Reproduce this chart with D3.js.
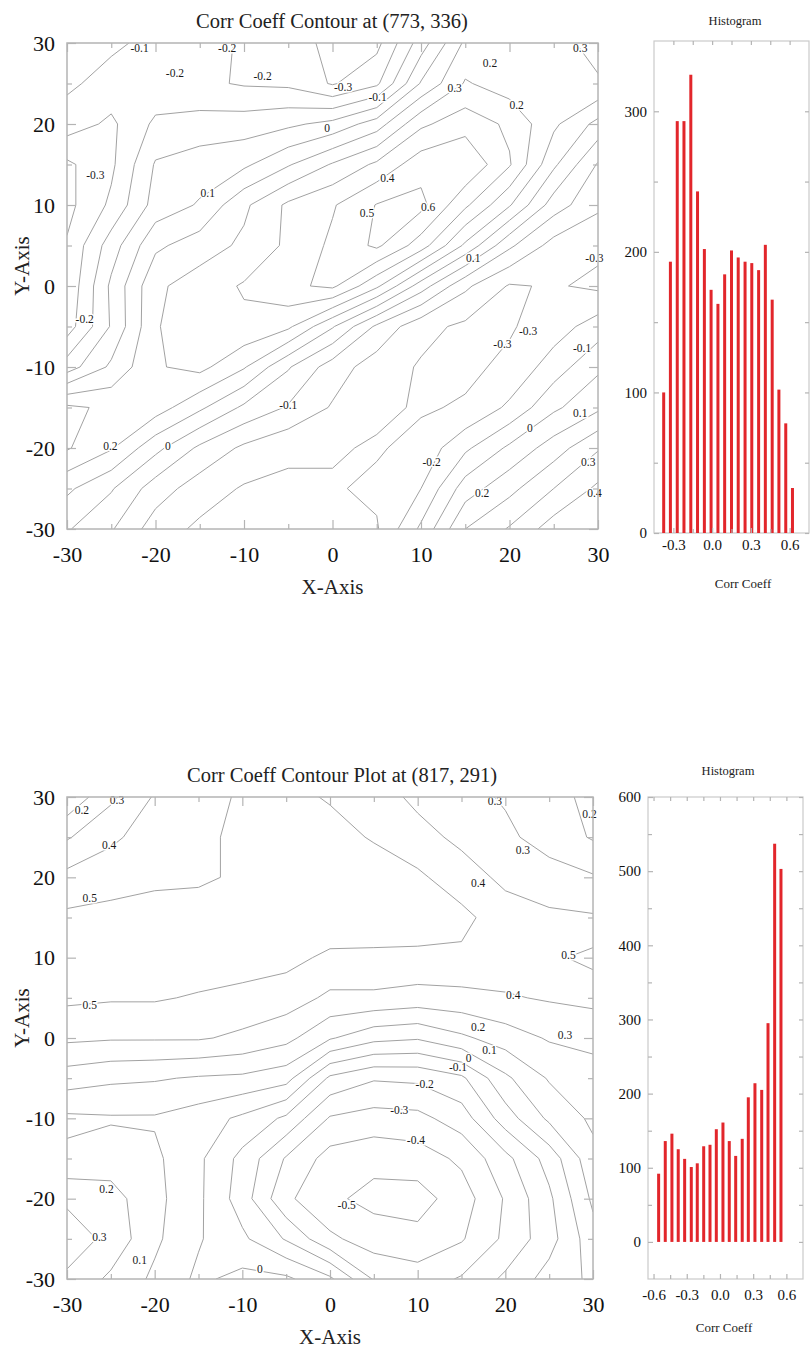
<!DOCTYPE html>
<html>
<head>
<meta charset="utf-8">
<script src="https://cdn.jsdelivr.net/npm/d3@7"></script>
<style>
body { margin: 0; background: #fff; }
text { font-family: "Liberation Serif", "Times New Roman", serif; fill: #222; }
</style>
</head>
<body>
<svg id="chart" width="812" height="1349"></svg>
<script>
// contour grids: nodes every 5 units, rows go from Y=30 (top) down to Y=-30
var gridX = [-30,-25,-20,-15,-10,-5,0,5,10,15,20,25,30];
var gridY = [30,25,20,15,10,5,0,-5,-10,-15,-20,-25,-30];
var axisTicks = [-30,-20,-10,0,10,20,30];
var axisMinor = [-25,-15,-5,5,15,25];

var corrTop = [
  [-0.03,-0.08,-0.13,-0.17,-0.21,-0.25,-0.33,-0.33,-0.05,0.22,0.28,0.27,0.33],
  [-0.08,-0.14,-0.17,-0.18,-0.21,-0.22,-0.31,-0.22,0.11,0.31,0.25,0.25,0.29],
  [-0.15,-0.22,-0.08,-0.06,-0.05,-0.02,0.03,0.15,0.38,0.46,0.38,0.22,0.07],
  [-0.32,-0.22,0.01,0.05,0.08,0.19,0.31,0.42,0.56,0.59,0.41,0.12,-0.11],
  [-0.33,-0.18,0.04,0.11,0.28,0.42,0.49,0.605,0.63,0.42,0.21,-0.05,-0.18],
  [-0.29,-0.05,0.18,0.25,0.32,0.42,0.52,0.62,0.45,0.18,-0.08,-0.24,-0.28],
  [-0.28,0.02,0.28,0.35,0.41,0.48,0.52,0.32,0.05,-0.18,-0.31,-0.29,-0.32],
  [-0.25,0.01,0.29,0.38,0.38,0.32,0.11,-0.12,-0.27,-0.32,-0.31,-0.25,-0.15],
  [-0.05,0.12,0.29,0.33,0.21,0.01,-0.15,-0.25,-0.31,-0.32,-0.28,-0.15,-0.02],
  [0.32,0.28,0.25,0.12,-0.02,-0.11,-0.21,-0.28,-0.31,-0.29,-0.18,-0.02,0.08],
  [0.31,0.21,0.03,-0.12,-0.22,-0.28,-0.29,-0.31,-0.27,-0.12,0.02,0.15,0.29],
  [0.12,0.01,-0.15,-0.25,-0.31,-0.32,-0.31,-0.28,-0.2,0.05,0.17,0.3,0.42],
  [0.01,-0.09,-0.25,-0.32,-0.33,-0.33,-0.32,-0.31,-0.08,0.2,0.31,0.45,0.5]
];
var levelsTop = [-0.3,-0.2,-0.1,0,0.1,0.2,0.3,0.4,0.5,0.6];
var labelsTop = [
  [-21.8,29.4,"-0.1"],[-11.9,29.4,"-0.2"],[-17.8,26.3,"-0.2"],[-7.9,25.9,"-0.2"],
  [1.2,24.6,"-0.3"],[5.1,23.3,"-0.1"],[-0.6,19.5,"0"],[28,29.4,"0.3"],
  [17.8,27.5,"0.2"],[13.8,24.4,"0.3"],[20.8,22.3,"0.2"],[-26.8,13.7,"-0.3"],
  [-14.1,11.5,"0.1"],[6.2,13.3,"0.4"],[3.9,9.0,"0.5"],[10.8,9.8,"0.6"],
  [15.9,3.5,"0.1"],[29.6,3.5,"-0.3"],[-28,-4.1,"-0.2"],[22.1,-5.6,"-0.3"],
  [19.2,-7.2,"-0.3"],[28.2,-7.7,"-0.1"],[-5,-14.7,"-0.1"],[28,-15.7,"0.1"],
  [22.3,-17.5,"0"],[-25.1,-19.8,"0.2"],[-18.6,-19.8,"0"],[11.2,-21.7,"-0.2"],
  [28.9,-21.7,"0.3"],[16.9,-25.6,"0.2"],[29.6,-25.6,"0.4"]
];

var corrBottom = [
  [0.12,0.28,0.41,0.47,0.51,0.53,0.49,0.44,0.38,0.33,0.29,0.24,0.17],
  [0.29,0.38,0.45,0.48,0.52,0.55,0.54,0.49,0.43,0.38,0.32,0.26,0.19],
  [0.43,0.46,0.48,0.49,0.51,0.56,0.57,0.56,0.52,0.44,0.38,0.34,0.31],
  [0.52,0.53,0.54,0.53,0.55,0.57,0.57,0.56,0.55,0.53,0.44,0.42,0.41],
  [0.56,0.57,0.57,0.56,0.55,0.53,0.48,0.48,0.48,0.48,0.46,0.48,0.53],
  [0.52,0.51,0.51,0.49,0.47,0.45,0.38,0.38,0.36,0.37,0.39,0.41,0.43],
  [0.42,0.41,0.41,0.41,0.38,0.33,0.21,0.13,0.11,0.18,0.25,0.31,0.32],
  [0.25,0.22,0.21,0.19,0.18,0.14,-0.12,-0.19,-0.18,-0.12,0.08,0.21,0.27],
  [0.08,0.09,0.09,0.05,-0.02,-0.12,-0.31,-0.34,-0.33,-0.25,-0.05,0.12,0.22],
  [0.12,0.15,0.12,0.02,-0.13,-0.31,-0.44,-0.47,-0.45,-0.38,-0.23,-0.06,0.17],
  [0.28,0.24,0.13,0.02,-0.15,-0.38,-0.48,-0.53,-0.54,-0.45,-0.29,-0.12,0.12],
  [0.36,0.27,0.12,0.01,-0.08,-0.21,-0.38,-0.45,-0.47,-0.41,-0.28,-0.14,0.06],
  [0.28,0.18,0.08,-0.02,0.03,0.02,-0.08,-0.31,-0.35,-0.29,-0.18,-0.06,0.02]
];
var levelsBottom = [-0.5,-0.4,-0.3,-0.2,-0.1,0,0.1,0.2,0.3,0.4,0.5];
var labelsBottom = [
  [-28.3,28.4,"0.2"],[-24.3,29.6,"0.3"],[-25.2,24,"0.4"],[-27.4,17.4,"0.5"],
  [-27.4,4.1,"0.5"],[18.8,29.5,"0.3"],[29.6,27.9,"0.2"],[22,23.4,"0.3"],
  [16.9,19.3,"0.4"],[27.2,10.3,"0.5"],[20.9,5.4,"0.4"],[16.9,1.4,"0.2"],
  [26.8,0.4,"0.3"],[18.2,-1.5,"0.1"],[15.8,-2.5,"0"],[14.6,-3.6,"-0.1"],
  [10.8,-5.7,"-0.2"],[7.9,-9,"-0.3"],[9.8,-12.7,"-0.4"],[1.9,-20.8,"-0.5"],
  [-25.5,-18.8,"0.2"],[-26.3,-24.8,"0.3"],[-21.7,-27.6,"0.1"],[-8,-28.7,"0"]
];

// histograms
var histTopBins = [-0.375,-0.323,-0.27,-0.218,-0.165,-0.113,-0.06,-0.008,0.045,0.097,
                   0.15,0.202,0.255,0.307,0.36,0.412,0.465,0.517,0.57,0.622];
var histTopCounts = [100,193,293,293,326,243,202,173,163,184,201,196,193,192,187,205,166,102,78,32];
var histBottomBins = [-0.554,-0.494,-0.434,-0.377,-0.319,-0.259,-0.205,-0.147,-0.09,-0.033,
                      0.027,0.084,0.142,0.201,0.256,0.316,0.377,0.434,0.494,0.551];
var histBottomCounts = [92,136,146,125,112,101,106,129,131,152,161,136,116,139,195,214,205,295,537,503];

var svg = d3.select("#chart");
var frameColor = "#b4b4b4";

function styleAxis(g) {
  g.select(".domain").remove();
  g.selectAll(".tick line").attr("stroke", frameColor).attr("stroke-width", 1.2);
}

function drawContour(box, values, levels, labels, title, id) {
  var x = d3.scaleLinear().domain([gridX[0], gridX[gridX.length - 1]]).range([box.x0, box.x1]);
  var y = d3.scaleLinear().domain([gridY[gridY.length - 1], gridY[0]]).range([box.y1, box.y0]);
  // d3.contours puts sample i at i + 0.5
  var gx = d3.scaleLinear().domain([0.5, gridX.length - 0.5]).range([box.x0, box.x1]);
  var gy = d3.scaleLinear().domain([0.5, gridY.length - 0.5]).range([box.y0, box.y1]);

  svg.append("clipPath").attr("id", id)
    .append("rect")
    .attr("x", box.x0).attr("y", box.y0)
    .attr("width", box.x1 - box.x0).attr("height", box.y1 - box.y0);

  var contours = d3.contours()
    .size([gridX.length, gridY.length])
    .thresholds(levels)(values.flat());

  var path = d3.geoPath(d3.geoTransform({
    point: function(px, py) { this.stream.point(gx(px), gy(py)); }
  }));

  svg.append("g")
    .attr("clip-path", "url(#" + id + ")")
    .selectAll("path")
    .data(contours)
    .enter().append("path")
    .attr("d", path)
    .attr("fill", "none")
    .attr("stroke", "#a2a2a2")
    .attr("stroke-width", 1)
    .attr("stroke-linejoin", "round");

  svg.append("g").selectAll("text")
    .data(labels)
    .enter().append("text")
    .attr("x", function(d) { return x(d[0]); })
    .attr("y", function(d) { return y(d[1]); })
    .attr("dy", "0.35em")
    .attr("text-anchor", "middle")
    .attr("font-size", 11.5)
    .attr("stroke", "#fff")
    .attr("stroke-width", 3)
    .attr("paint-order", "stroke")
    .style("fill", "#1a1a1a")
    .text(function(d) { return d[2]; });

  svg.append("rect")
    .attr("x", box.x0).attr("y", box.y0)
    .attr("width", box.x1 - box.x0).attr("height", box.y1 - box.y0)
    .attr("fill", "none").attr("stroke", frameColor).attr("stroke-width", 1.5);

  var plain = function(d) { return String(d); };

  // inward ticks on all four sides
  svg.append("g").attr("transform", "translate(0," + box.y1 + ")")
    .call(d3.axisBottom(x).tickValues(axisTicks).tickSize(-9).tickPadding(17).tickFormat(plain))
    .call(styleAxis)
    .selectAll("text").attr("font-size", 22).style("fill", "#111");
  svg.append("g").attr("transform", "translate(0," + box.y1 + ")")
    .call(d3.axisBottom(x).tickValues(axisMinor).tickSize(-5).tickFormat(""))
    .call(styleAxis);
  svg.append("g").attr("transform", "translate(0," + box.y0 + ")")
    .call(d3.axisTop(x).tickValues(axisTicks).tickSize(-9).tickFormat(""))
    .call(styleAxis);
  svg.append("g").attr("transform", "translate(0," + box.y0 + ")")
    .call(d3.axisTop(x).tickValues(axisMinor).tickSize(-5).tickFormat(""))
    .call(styleAxis);
  svg.append("g").attr("transform", "translate(" + box.x0 + ",0)")
    .call(d3.axisLeft(y).tickValues(axisTicks).tickSize(-9).tickPadding(12).tickFormat(plain))
    .call(styleAxis)
    .selectAll("text").attr("font-size", 22).style("fill", "#111");
  svg.append("g").attr("transform", "translate(" + box.x0 + ",0)")
    .call(d3.axisLeft(y).tickValues(axisMinor).tickSize(-5).tickFormat(""))
    .call(styleAxis);
  svg.append("g").attr("transform", "translate(" + box.x1 + ",0)")
    .call(d3.axisRight(y).tickValues(axisTicks).tickSize(-9).tickFormat(""))
    .call(styleAxis);
  svg.append("g").attr("transform", "translate(" + box.x1 + ",0)")
    .call(d3.axisRight(y).tickValues(axisMinor).tickSize(-5).tickFormat(""))
    .call(styleAxis);

  svg.append("text")
    .attr("x", box.titleX).attr("y", box.y0 - 15)
    .attr("text-anchor", "middle").attr("font-size", 20.5)
    .text(title);
  svg.append("text")
    .attr("x", (box.x0 + box.x1) / 2).attr("y", box.y1 + 65)
    .attr("text-anchor", "middle").attr("font-size", 21)
    .text("X-Axis");
  svg.append("text")
    .attr("transform", "translate(22," + ((box.y0 + box.y1) / 2 - 20) + ")rotate(-90)")
    .attr("text-anchor", "middle").attr("dy", "0.35em").attr("font-size", 21)
    .text("Y-Axis");
}

function drawHist(box, bins, counts, yDomain, yTicks, yMinor, xDomain, xTicks, xMinor) {
  var x = d3.scaleLinear().domain(xDomain).range([box.x0, box.x1]);
  var y = d3.scaleLinear().domain(yDomain).range([box.y1, box.y0]);

  svg.append("rect")
    .attr("x", box.x0).attr("y", box.y0)
    .attr("width", box.x1 - box.x0).attr("height", box.y1 - box.y0)
    .attr("fill", "none").attr("stroke", "#cacaca").attr("stroke-width", 1.2);

  svg.append("g").selectAll("rect")
    .data(counts)
    .enter().append("rect")
    .attr("x", function(d, i) { return x(bins[i]) - 1.5; })
    .attr("y", function(d) { return y(d); })
    .attr("width", 3)
    .attr("height", function(d) { return y(0) - y(d); })
    .attr("fill", "#e2262b");

  svg.append("g").attr("transform", "translate(" + box.x0 + ",0)")
    .call(d3.axisLeft(y).tickValues(yTicks).tickSize(-5).tickPadding(7).tickFormat(function(d) { return String(d); }))
    .call(styleAxis)
    .selectAll("text").attr("font-size", 15).style("fill", "#111");
  svg.append("g").attr("transform", "translate(" + box.x0 + ",0)")
    .call(d3.axisLeft(y).tickValues(yMinor).tickSize(-4).tickFormat(""))
    .call(styleAxis);
  svg.append("g").attr("transform", "translate(" + box.x1 + ",0)")
    .call(d3.axisRight(y).tickValues(yTicks.concat(yMinor)).tickSize(-4).tickFormat(""))
    .call(styleAxis);
  svg.append("g").attr("transform", "translate(0," + box.y1 + ")")
    .call(d3.axisBottom(x).tickValues(xTicks).tickSize(-5).tickPadding(box.xPad)
      .tickFormat(function(d) { return d.toFixed(1); }))
    .call(styleAxis)
    .selectAll("text").attr("font-size", 15).style("fill", "#111");
  svg.append("g").attr("transform", "translate(0," + box.y1 + ")")
    .call(d3.axisBottom(x).tickValues(xMinor).tickSize(-4).tickFormat(""))
    .call(styleAxis);
  svg.append("g").attr("transform", "translate(0," + box.y0 + ")")
    .call(d3.axisTop(x).tickValues(xTicks.concat(xMinor)).tickSize(-4).tickFormat(""))
    .call(styleAxis);

  svg.append("text")
    .attr("x", box.titleX).attr("y", box.titleY)
    .attr("text-anchor", "middle").attr("font-size", 12.5)
    .text("Histogram");
  svg.append("text")
    .attr("x", box.labelX).attr("y", box.labelY)
    .attr("text-anchor", "middle").attr("font-size", 13)
    .text("Corr Coeff");
}

drawContour({x0: 67, x1: 598, y0: 43, y1: 529, titleX: 332},
  corrTop, levelsTop, labelsTop, "Corr Coeff Contour at (773, 336)", "clipTop");
drawHist({x0: 654, x1: 809, y0: 41, y1: 533, xPad: 6, titleX: 735, titleY: 25, labelX: 743, labelY: 588},
  histTopBins, histTopCounts, [0, 350], [0, 100, 200, 300], [50, 150, 250],
  [-0.45, 0.75], [-0.3, 0, 0.3, 0.6], [-0.15, 0.15, 0.45]);

drawContour({x0: 67, x1: 593, y0: 797, y1: 1279, titleX: 342},
  corrBottom, levelsBottom, labelsBottom, "Corr Coeff Contour Plot at (817, 291)", "clipBottom");
drawHist({x0: 648, x1: 803, y0: 797, y1: 1279, xPad: 10, titleX: 728, titleY: 775, labelX: 724, labelY: 1332},
  histBottomBins, histBottomCounts, [-50, 600], [0, 100, 200, 300, 400, 500, 600], [50, 150, 250, 350, 450, 550],
  [-0.65, 0.75], [-0.6, -0.3, 0, 0.3, 0.6], [-0.45, -0.15, 0.15, 0.45]);
</script>
</body>
</html>
